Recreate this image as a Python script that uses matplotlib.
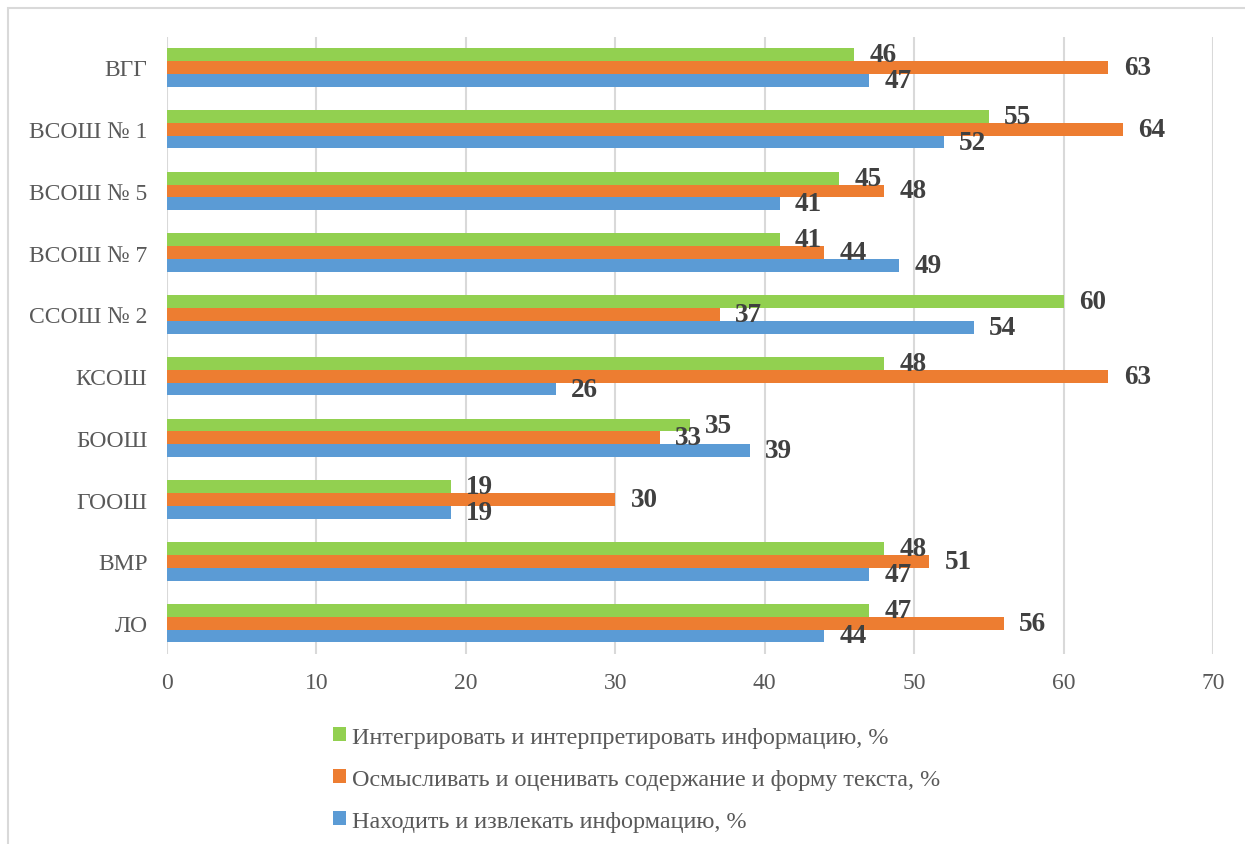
import matplotlib
matplotlib.use("Agg")
import matplotlib.pyplot as plt
from matplotlib.patches import Patch, Rectangle
import numpy as np

categories = ["ВГГ", "ВСОШ № 1", "ВСОШ № 5", "ВСОШ № 7", "ССОШ № 2",
              "КСОШ", "БООШ", "ГООШ", "ВМР", "ЛО"]
integrate = [46, 55, 45, 41, 60, 48, 35, 19, 48, 47]
evaluate = [63, 64, 48, 44, 37, 63, 33, 30, 51, 56]
find = [47, 52, 41, 49, 54, 26, 39, 19, 47, 44]
series_names = ["Интегрировать и интерпретировать информацию, %",
                "Осмысливать и оценивать содержание и форму текста, %",
                "Находить и извлекать информацию, %"]
colors = ["#92d050", "#ed7d31", "#5b9bd5"]
xticks = [0, 10, 20, 30, 40, 50, 60, 70]

plt.rcParams['font.family'] = ['Liberation Serif', 'DejaVu Serif']

W, H = 1245, 845
fig = plt.figure(figsize=(W / 100, H / 100), dpi=100)
ax = fig.add_axes([167 / W, 1 - 655 / H, (1213 - 167) / W, (655 - 37.6) / H])

y = np.arange(len(categories))
h = 0.208
label_color = "#404040"
for vals, off, col in zip([integrate, evaluate, find], [-h, 0, h], colors):
    bars = ax.barh(y + off, vals, height=h, color=col, zorder=3)
    ax.bar_label(bars, labels=[str(v) for v in vals], padding=11,
                 fontsize=19.5, fontweight='bold', color=label_color, zorder=4)

ax.set_ylim(len(categories) - 0.5, -0.5)
ax.set_xlim(0, 70)
ax.set_xticks(xticks)
ax.set_xticklabels([str(t) for t in xticks])
ax.set_yticks(y)
ax.set_yticklabels(categories)
ax.tick_params(axis='both', length=0, labelsize=17, labelcolor="#595959")
ax.tick_params(axis='x', pad=13)
ax.tick_params(axis='y', pad=14)
for s in ax.spines.values():
    s.set_visible(False)
ax.grid(axis='x', color="#d9d9d9", linewidth=1.5, zorder=0)
ax.set_axisbelow(True)

handles = [Patch(facecolor=c) for c in colors]
fig.legend(handles, series_names, loc='upper left',
           bbox_to_anchor=(333 / W, 1 - 728 / H), frameon=False,
           fontsize=17.4, labelcolor="#595959", handlelength=0.52,
           handleheight=0.52, handletextpad=0.25, labelspacing=0.86,
           borderpad=0, borderaxespad=0)

fig.add_artist(Rectangle((8 / W, -0.1), 1.2, 1 - 9 / H + 0.1,
                         transform=fig.transFigure, fill=False,
                         edgecolor="#d9d9d9", linewidth=1.5))

fig.savefig("out.png", dpi=100)
